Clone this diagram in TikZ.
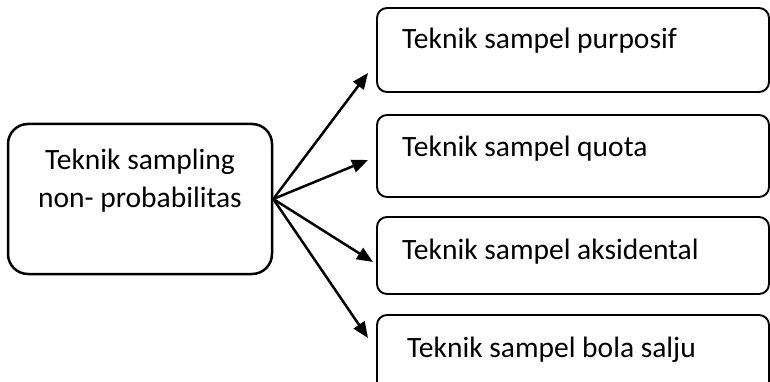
\documentclass[tikz,border=0pt]{standalone}
\usepackage{fontspec}
\setmainfont{Carlito}
\usetikzlibrary{arrows.meta}
\begin{document}
\begin{tikzpicture}[x=1pt,y=-1pt,
  bigbox/.style={draw, rounded corners=20pt, line width=2.5pt, inner sep=0pt,
    minimum width=264pt, minimum height=150pt},
  catbox/.style={draw, rounded corners=10pt, line width=1.9pt, inner sep=0pt,
    minimum width=392pt},
  lbl/.style={font=\fontsize{29.5}{35}\selectfont, inner sep=0pt},
  link/.style={-{Triangle[length=16pt,width=13pt]}, line width=2.5pt}]
\useasboundingbox (0,0) rectangle (770,382);
\clip (0,0) rectangle (770,382);

% source box
\node[bigbox] (src) at (140,199) {};
\node[lbl, anchor=base] (srcA) at (140,170) {Teknik sampling};
\node[lbl, anchor=base] (srcB) at (140,207) {non- probabilitas};

% category boxes
\node[catbox, minimum height=84pt] (b1) at (573,50) {};
\node[catbox, minimum height=82pt] (b2) at (573,156) {};
\node[catbox, minimum height=77pt] (b3) at (573,255.5) {};
\node[catbox, minimum height=80pt] (b4) at (573,355) {};

\node[lbl, anchor=base west] (t1) at (402,49) {Teknik sampel purposif};
\node[lbl, anchor=base west] (t2) at (402,157) {Teknik sampel quota};
\node[lbl, anchor=base west] (t3) at (402,259) {Teknik sampel aksidental};
\node[lbl, anchor=base west] (t4) at (407,357) {Teknik sampel bola salju};

% arrow end points
\coordinate (e1) at (368,73);
\coordinate (e2) at (368,160);
\coordinate (e3) at (373,262);
\coordinate (e4) at (368,338);

\draw[link] (src.east) -- (e1);
\draw[link] (src.east) -- (e2);
\draw[link] (src.east) -- (e3);
\draw[link] (src.east) -- (e4);
\end{tikzpicture}
\end{document}
